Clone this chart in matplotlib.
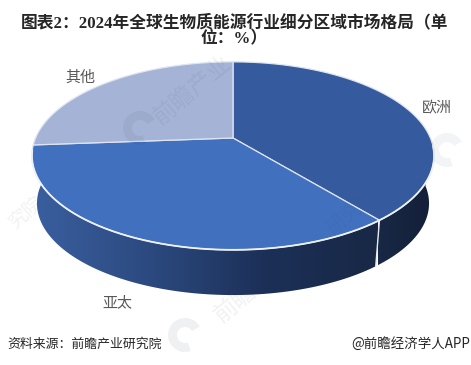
import numpy as np
import matplotlib
matplotlib.use("Agg")
import matplotlib.pyplot as plt
from matplotlib.colors import LinearSegmentedColormap
from matplotlib.patches import Polygon, Wedge

plt.rcParams['font.family'] = ['Noto Sans CJK SC', 'DejaVu Sans']

# share of each region, clockwise from 12 o'clock
regions = ["欧洲", "亚太", "其他"]
shares = [39.1, 34.7, 26.2]
top_colors = ["#355b9e", "#4170bf", "#a5b3d6"]
label_pos = [(437, 108), (117, 303), (80, 78)]

# fullwidth colon and brackets as in the original
title = "图表2\uff1a2024年全球生物质能源行业细分区域市场格局\uff08单\n位\uff1a%\uff09"
source = "资料来源\uff1a前瞻产业研究院"
credit = "@前瞻经济学人APP"

# pie geometry in pixels, the disc is drawn with a perspective tilt
PX, PY = 233, 138
R, A, K = 197.4, 90.6, 0.19
LOW_PY, LOW_S = 186, 0.975


def project(deg, level=0):
    t = np.radians(deg)
    x, y = np.sin(t), np.cos(t)
    w = 1 + K * y
    sx, sy = R * x / w, -A * y / w
    if level:
        return PX + sx * LOW_S, LOW_PY + sy * LOW_S
    return PX + sx, PY + sy


def side_wall(ax, a0, a1, cmap, x0, x1):
    # one polygon for the outline, the colour comes from a clipped gradient
    angles = np.linspace(a0, a1, 300)
    xt, yt = project(angles)
    xb, yb = project(angles, 1)
    outline = list(zip(xt, yt)) + list(zip(xb[::-1], yb[::-1]))
    patch = Polygon(outline, fc="none", ec="none", zorder=2)
    ax.add_patch(patch)
    grad = np.linspace(0, 1, 256).reshape(1, -1)
    im = ax.imshow(grad, cmap=cmap, extent=[x0, x1, 310, 130], aspect="auto", zorder=2)
    im.set_clip_path(patch)


def watermark(ax, wx, wy, text, size, logo=None):
    ax.text(wx, wy, text, fontsize=size, color="#3c4660", alpha=0.07, rotation=40,
            ha="center", va="center", zorder=5)
    if logo:
        ax.add_patch(Wedge(logo, 17, 70, 330, width=9, fc="#3c4660", alpha=0.08, ec="none", zorder=5))


fig = plt.figure(figsize=(4.71, 3.65), dpi=100)
ax = fig.add_axes([0, 0, 1, 1])

edges = np.cumsum([0] + shares) / sum(shares) * 360

asia_wall = LinearSegmentedColormap.from_list("asia", ["#3a5f9f", "#2c4a80", "#1c3058", "#182845"])
europe_wall = LinearSegmentedColormap.from_list("europe", ["#182845", "#141f38"])
side_wall(ax, edges[1], 272, asia_wall, 33, 378)
side_wall(ax, 90, edges[1], europe_wall, 378, 434)

# white split between the two visible walls
xt, yt = project(edges[1])
xb, yb = project(edges[1], 1)
ax.plot([xt, xb], [yt, yb], color="#e6e9f0", lw=1.0, zorder=3)

for i in range(3):
    angles = np.linspace(edges[i], edges[i + 1], 200)
    xs, ys = project(angles)
    pts = [(PX, PY)] + list(zip(xs, ys))
    ax.add_patch(Polygon(pts, fc=top_colors[i], ec="#dfe5f0", lw=0.9, zorder=4, joinstyle="round"))

# brighter rim along the front edge
front = np.linspace(95, 262, 300)
ax.plot(*project(front), color="#eef1f7", lw=1.3, zorder=4.5)

for name, (lx, ly) in zip(regions, label_pos):
    ax.text(lx, ly, name, color="#595959", fontsize=10.8, ha="center", va="center", zorder=6)

ax.text(234.5, 31, title, fontsize=12.05, fontweight="bold", color="#262626", ha="center",
        va="center", linespacing=0.95, zorder=6,
        family=['Liberation Serif', 'Noto Sans CJK SC'])
ax.text(7, 344, source, fontsize=9.3, color="#262626", ha="left", va="center", zorder=6)
ax.text(470, 344, credit, fontsize=9.7, color="#262626", ha="right", va="center", zorder=6)

# faint watermarks
watermark(ax, 192, 90, "前瞻产业", 17, logo=(140, 128))
watermark(ax, 352, 212, "研究院", 14)
watermark(ax, 235, 303, "前瞻", 17, logo=(185, 335))
watermark(ax, 26, 212, "究院", 14)
ax.add_patch(Wedge((447, 150), 17, 70, 330, width=9, fc="#3c4660", alpha=0.06, ec="none", zorder=5))

ax.set_xlim(0, 471)
ax.set_ylim(365, 0)
ax.axis("off")

fig.savefig("out.png", dpi=100)
